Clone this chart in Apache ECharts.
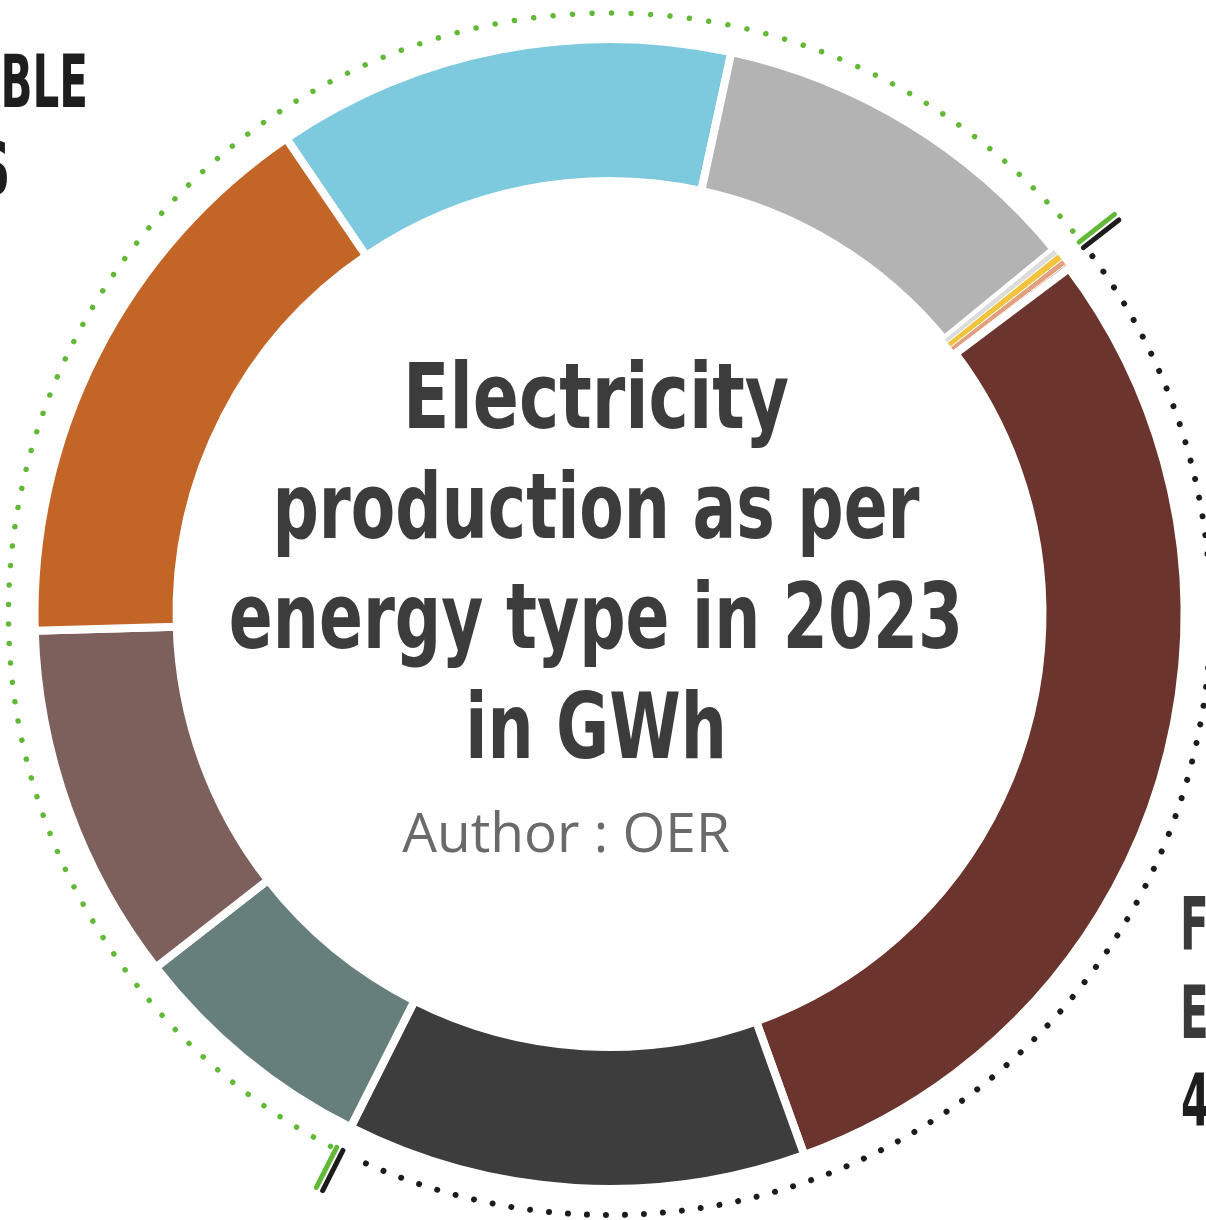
<!DOCTYPE html>
<html><head><meta charset="utf-8">
<script src="https://cdn.jsdelivr.net/npm/echarts@6/dist/echarts.min.js"></script>
<style>html,body{margin:0;padding:0;background:#fff}#c{width:1206px;height:1220px}</style>
</head><body><div id="c"></div>
<script>
// Data (clockwise from the top-left boundary), GWh
const categories = ['Hydro', 'Bioenergy', 'Biogas', 'Solar thermal', 'Gas', 'Other fossil', 'Coal', 'Fuel oil', 'Wind & other', 'Photovoltaic', 'Bagasse'];
const values = [387, 320, 5, 6, 5, 4, 893, 388, 211, 302, 479];
const groups = ['Renewable', 'Renewable', 'Renewable', 'Renewable', 'Fossil', 'Fossil', 'Fossil', 'Fossil', 'Renewable', 'Renewable', 'Renewable'];
const colors = ['#7DC9DE', '#B3B3B3', '#DCDCDC', '#F2C43E', '#E3A07E', '#C0452F', '#6B342D', '#3D3D3D', '#667F7D', '#7D5F5B', '#C26527'];
const titleLines = ['Electricity', 'production as per', 'energy type in 2023', 'in GWh'];
const author = 'Author : OER';
const renewableLabel = ['RENEWABLE', 'ENERGIES'];
const fossilLabel = ['FOSSIL', 'ENERGIES'];

const chart = echarts.init(document.getElementById('c'), null, {renderer: 'canvas'});
const cx = 609.5, cy = 614, rDot = 601;
const startAngle = 124.2;            // ECharts convention (deg, CCW from 3 o'clock)
const startTop = 90 - startAngle;    // clockwise from 12 o'clock
const total = values.reduce((a, b) => a + b, 0);
const deg = v => v / total * 360;
let acc = 0; const cum = values.map(v => { const s = acc; acc += v; return s; });
const fIdx = groups.map((g, i) => g === 'Fossil' ? i : -1).filter(i => i >= 0);
const fFirst = fIdx[0], fLast = fIdx[fIdx.length - 1];
const fStart = startTop + deg(cum[fFirst]);
const fEnd = startTop + deg(cum[fLast] + values[fLast]);
const fossilSum = fIdx.reduce((a, i) => a + values[i], 0);
const fossilPct = Math.round(fossilSum / total * 100);

const toRad = t => (t - 90) * Math.PI / 180;
const polar = (t, r) => [cx + r * Math.sin(t * Math.PI / 180), cy - r * Math.cos(t * Math.PI / 180)];
function tick(t, off, color) {
  const vx = Math.cos(t * Math.PI / 180) * off, vy = Math.sin(t * Math.PI / 180) * off;
  const a = polar(t, 599), b = polar(t, 644);
  return {type: 'line', silent: true, shape: {x1: a[0] + vx, y1: a[1] + vy, x2: b[0] + vx, y2: b[1] + vy},
    style: {stroke: color, lineWidth: 5, lineCap: 'round'}};
}
const green = '#62B937', black = '#1c1c1c';

const condFont = '"Liberation Sans Narrow", "DejaVu Sans Condensed", "DejaVu Sans", sans-serif';
const sideFont = 'bold 73px ' + condFont;
const sx = 0.64;
function txt(x, y, text, font, fill, align, scaleX) {
  return {type: 'text', silent: true, x: x, y: y, scaleX: scaleX,
    style: {text: text, font: font, fill: fill, align: align, verticalAlign: 'middle', textAlign: align, textVerticalAlign: 'middle'}};
}

const graphic = [
  {type: 'arc', silent: true, shape: {cx, cy, r: rDot, startAngle: toRad(fEnd + 0.9), endAngle: toRad(fStart + 360 - 0.4), clockwise: true},
    style: {fill: null, stroke: green, lineWidth: 5.5, lineDash: [0.01, 19.5], lineCap: 'round'}},
  {type: 'arc', silent: true, shape: {cx, cy, r: rDot, startAngle: toRad(fStart + 1.5), endAngle: toRad(fEnd - 1.2), clockwise: true},
    style: {fill: null, stroke: black, lineWidth: 6, lineDash: [0.01, 19], lineCap: 'round'}},
  tick(fStart, -3.5, green), tick(fStart, 3.5, black),
  tick(fEnd, -3.5, black), tick(fEnd, 3.5, green),
  txt(88, 88, renewableLabel[0], sideFont, '#1e1e1e', 'right', sx),
  txt(10, 175, renewableLabel[1], sideFont, '#1e1e1e', 'right', sx),
  txt(1180, 931, fossilLabel[0], sideFont, '#3a3a3a', 'left', sx),
  txt(1180, 1019, fossilLabel[1], sideFont, '#3a3a3a', 'left', sx),
  txt(1181, 1107, fossilPct + ' %', sideFont, '#1e1e1e', 'left', sx)
];
// Chart title in the hole
titleLines.forEach((line, i) => {
  graphic.push(txt(596, 405 + i * 110, line, 'bold 90px ' + condFont, '#3c3c3c', 'center', i === 0 ? 0.84 : 0.80));
});
graphic.push(txt(566, 836, author, 'normal 55px "Open Sans", sans-serif', '#6a6a6a', 'center', 1));

chart.setOption({
  backgroundColor: '#ffffff',
  animation: false,
  series: [{
    type: 'pie', name: 'Electricity production 2023 (GWh)', center: [cx, cy], radius: [433, 575], startAngle: startAngle, clockwise: true,
    silent: true, label: {show: false}, labelLine: {show: false},
    data: categories.map((n, i) => ({name: n, value: values[i],
      itemStyle: {color: colors[i], borderColor: '#ffffff', borderWidth: values[i] < 20 ? 1 : 8}}))
  }],
  graphic: graphic
});
</script></body></html>
